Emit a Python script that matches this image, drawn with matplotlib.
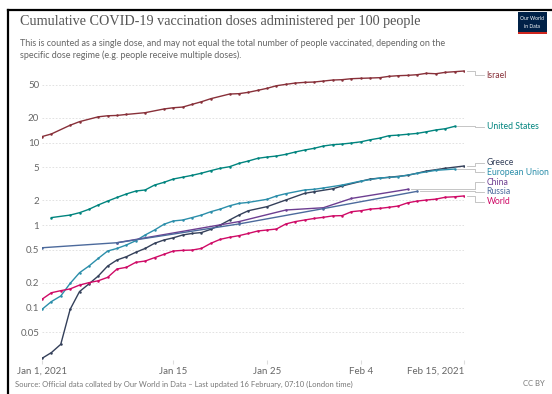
import matplotlib
matplotlib.use("Agg")
import matplotlib.pyplot as plt
from matplotlib.lines import Line2D
from matplotlib.patches import Rectangle
from matplotlib.ticker import NullLocator

plt.rcParams['font.family'] = ['Lato', 'DejaVu Sans']

# x values are days since 1 Jan 2021, y values are doses per 100 people
israel_days = [0, 1, 3, 4, 6, 7, 8, 9, 11, 13, 14, 15, 16, 17, 18, 20, 21, 22, 23, 24, 25,
               26, 27, 28, 29, 30, 31, 32, 33, 34, 35, 36, 37, 38, 39, 40, 41, 42, 43, 44, 45]
israel_vals = [11.8, 12.7, 16.2, 17.9, 20.5, 21.1, 21.3, 21.9, 23.0, 25.5, 26.4, 26.9, 29.0,
               31.2, 34.0, 38.7, 39.1, 40.6, 42.9, 45.4, 48.8, 50.7, 52.6, 53.6, 54.1, 55.6,
               57.2, 57.8, 59.4, 60.0, 60.5, 61.1, 63.4, 64.6, 65.2, 66.4, 69.0, 68.2, 70.9,
               72.2, 73.6]

us_days = [1, 3, 4, 5, 6, 7, 8, 9, 10, 11, 12, 13, 14, 15, 16, 17, 18, 19, 20, 21, 22, 23,
           24, 25, 26, 27, 28, 29, 30, 31, 32, 33, 34, 35, 36, 37, 38, 39, 40, 41, 42, 43, 44]
us_vals = [1.23, 1.32, 1.41, 1.55, 1.75, 1.95, 2.16, 2.38, 2.58, 2.66, 3.05, 3.29, 3.61,
           3.8, 4.0, 4.25, 4.56, 4.87, 5.09, 5.59, 5.97, 6.43, 6.67, 6.86, 7.19, 7.67, 8.11,
           8.50, 9.07, 9.41, 9.59, 9.86, 10.2, 10.8, 11.3, 12.1, 12.3, 12.6, 12.9, 13.5,
           14.2, 14.7, 15.7]

greece_days = [0, 1, 2, 3, 4, 5, 6, 7, 8, 9, 10, 11, 12, 13, 14, 15, 16, 17, 18, 19, 20,
               21, 22, 24, 26, 28, 29, 31, 32, 35, 37, 39, 41, 43, 45]
greece_vals = [0.0242, 0.0284, 0.0358, 0.095, 0.156, 0.193, 0.241, 0.318, 0.377, 0.413,
               0.467, 0.52, 0.60, 0.658, 0.70, 0.757, 0.79, 0.81, 0.887, 1.0, 1.15, 1.32,
               1.49, 1.67, 2.01, 2.42, 2.53, 2.75, 2.97, 3.61, 3.79, 4.0, 4.51, 4.87, 5.19]

eu_days = [0, 1, 2, 3, 4, 5, 6, 7, 8, 9, 10, 11, 12, 13, 14, 15, 16, 17, 18, 19, 20, 21,
           22, 24, 25, 26, 28, 29, 30, 32, 34, 36, 38, 40, 42, 44]
eu_vals = [0.095, 0.118, 0.138, 0.196, 0.264, 0.318, 0.394, 0.484, 0.52, 0.573, 0.645,
           0.757, 0.87, 1.02, 1.12, 1.15, 1.23, 1.32, 1.45, 1.56, 1.71, 1.83, 1.88, 2.05,
           2.25, 2.40, 2.66, 2.71, 2.81, 3.05, 3.41, 3.71, 3.85, 4.23, 4.60, 4.77]

china_days = [8, 21, 26, 30, 33, 39]
china_vals = [0.61, 1.10, 1.52, 1.62, 2.10, 2.71]

russia_days = [0, 8, 21, 30, 40]
russia_vals = [0.53, 0.61, 1.03, 1.58, 2.56]

world_days = list(range(0, 46))
world_vals = [0.126, 0.151, 0.16, 0.168, 0.187, 0.20, 0.211, 0.232, 0.293, 0.307, 0.353,
              0.366, 0.402, 0.441, 0.484, 0.493, 0.497, 0.52, 0.60, 0.67, 0.71, 0.743,
              0.79, 0.846, 0.87, 0.894, 1.03, 1.10, 1.15, 1.20, 1.24, 1.29, 1.30, 1.45,
              1.49, 1.56, 1.59, 1.64, 1.70, 1.86, 1.95, 2.01, 2.06, 2.17, 2.20, 2.25]

names = ["Israel", "United States", "Greece", "European Union", "China", "Russia", "World"]
colors = ["#883039", "#00847E", "#34405a", "#2b8eaa", "#6D3E91", "#4C6A9C", "#CF0A66"]
# where each end label sits on the y scale
label_y = [65.6, 15.5, 5.69, 4.35, 3.32, 2.53, 1.92]

series = [(israel_days, israel_vals), (us_days, us_vals), (greece_days, greece_vals),
          (eu_days, eu_vals), (china_days, china_vals), (russia_days, russia_vals),
          (world_days, world_vals)]

tick_days = [0, 14, 24, 34, 45]
tick_labels = ["Jan 1, 2021", "Jan 15", "Jan 25", "Feb 4", "Feb 15, 2021"]
y_ticks = [0.05, 0.1, 0.2, 0.5, 1, 2, 5, 10, 20, 50]
y_tick_labels = ["0.05", "0.1", "0.2", "0.5", "1", "2", "5", "10", "20", "50"]

W, H = 552, 394
fig = plt.figure(figsize=(W / 100, H / 100), dpi=100)
ax = fig.add_axes([42 / W, 1 - 360 / H, 422 / W, 290 / H])

for (days, vals), name, col in zip(series, names, colors):
    ax.plot(days, vals, color=col, lw=1.0, marker='o', ms=1.8, mew=0, zorder=3)

# label connectors and names on the right
for (days, vals), name, col, ly in zip(series, names, colors, label_y):
    x0, y0 = days[-1], vals[-1]
    ax.plot([x0 + 0.3, 46.2, 46.2, 47.1], [y0, y0, ly, ly], color="#bbbbbb",
            lw=0.6, clip_on=False, zorder=2)
    ax.text(47.4, ly, name, color=col, fontsize=6.2, va='center', ha='left',
            clip_on=False)

ax.set_yscale('log')
ax.set_xlim(0, 45)
ax.set_ylim(0.0231, 75.7)
ax.set_yticks(y_ticks)
ax.set_yticklabels(y_tick_labels)
ax.yaxis.set_minor_locator(NullLocator())
ax.set_xticks(tick_days)
ax.set_xticklabels(tick_labels)
xt = ax.get_xticklabels()
xt[-1].set_ha('right')

ax.tick_params(axis='y', length=0, pad=2, labelsize=7, labelcolor="#666666")
ax.tick_params(axis='x', length=3, color="#dddddd", pad=2, labelsize=7,
               labelcolor="#666666")
ax.grid(axis='y', color="#dddddd", linestyle=(0, (2, 2)), lw=0.6)
ax.set_axisbelow(True)
for s in ax.spines.values():
    s.set_visible(False)

# titles
fig.text(20 / W, 1 - 21 / H, "Cumulative COVID-19 vaccination doses administered per 100 people",
         family="Liberation Serif", fontsize=10.2, color="#555555", va='center')
fig.text(20 / W, 1 - 44 / H,
         "This is counted as a single dose, and may not equal the total number of people vaccinated, depending on the",
         fontsize=6.5, color="#666666", va='center')
fig.text(20 / W, 1 - 55 / H, "specific dose regime (e.g. people receive multiple doses).",
         fontsize=6.5, color="#666666", va='center')
fig.text(15 / W, 1 - 384 / H,
         "Source: Official data collated by Our World in Data \u2013 Last updated 16 February, 07:10 (London time)",
         fontsize=5.5, color="#777777", va='center')
fig.text(545 / W, 1 - 384 / H, "CC BY", fontsize=5.5, color="#777777", va='center', ha='right')

# logo
fig.add_artist(Rectangle((518 / W, 1 - 34 / H), 29 / W, 22 / H, transform=fig.transFigure,
                         facecolor="#002147", edgecolor="none"))
fig.add_artist(Rectangle((518 / W, 1 - 34 / H), 29 / W, 2 / H, transform=fig.transFigure,
                         facecolor="#ce261e", edgecolor="none"))
fig.text(532.5 / W, 1 - 19 / H, "Our World", fontsize=3.6, color="white", ha='center', va='center')
fig.text(532.5 / W, 1 - 26 / H, "in Data", fontsize=3.6, color="white", ha='center', va='center')

# screenshot frame
fig.add_artist(Line2D([8 / W, 8 / W], [0, 1 - 10 / H], transform=fig.transFigure,
                      color="black", lw=1.6))
fig.add_artist(Line2D([8 / W, 1], [1 - 10 / H, 1 - 10 / H], transform=fig.transFigure,
                      color="black", lw=1.6))

fig.savefig("out.png", dpi=100)
